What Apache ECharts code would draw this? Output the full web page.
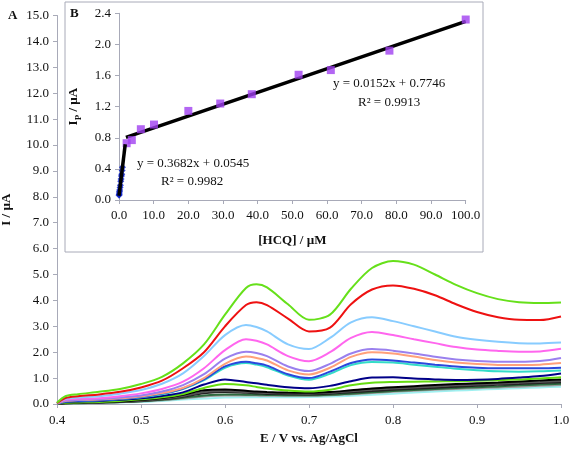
<!DOCTYPE html>
<html>
<head>
<meta charset="utf-8">
<script src="https://cdn.jsdelivr.net/npm/echarts@6/dist/echarts.min.js"></script>
<style>html,body{margin:0;padding:0;background:#fff}#c{width:569px;height:450px}</style>
</head>
<body>
<div id="c"></div>
<script>
// ---------- Main chart (A) data ----------
const E = [0.40,0.41,0.425,0.45,0.475,0.50,0.525,0.55,0.575,0.60,0.625,0.6375,0.65,0.675,0.70,0.725,0.75,0.775,0.80,0.825,0.85,0.875,0.90,0.925,0.95,0.975,1.00];
const curveGreenTop = [0.05,0.30,0.38,0.47,0.58,0.77,1.05,1.57,2.30,3.45,4.48,4.62,4.50,3.85,3.25,3.45,4.45,5.25,5.52,5.38,5.00,4.60,4.28,4.05,3.93,3.90,3.92];
const curveRed      = [0.03,0.23,0.30,0.37,0.47,0.64,0.90,1.38,2.00,3.00,3.82,3.93,3.82,3.30,2.80,2.95,3.85,4.42,4.58,4.45,4.20,3.85,3.55,3.35,3.25,3.24,3.38];
const curveLightBlue= [0.03,0.20,0.25,0.30,0.40,0.54,0.78,1.18,1.85,2.66,3.05,2.97,2.80,2.30,2.12,2.55,3.15,3.35,3.20,3.00,2.80,2.60,2.48,2.40,2.35,2.34,2.37];
const curvePink     = [0.02,0.17,0.20,0.22,0.30,0.41,0.58,0.86,1.38,2.08,2.50,2.44,2.30,1.85,1.65,2.00,2.55,2.78,2.66,2.50,2.35,2.20,2.10,2.05,2.02,2.03,2.13];
const curvePurple   = [0.02,0.13,0.16,0.19,0.25,0.33,0.48,0.73,1.15,1.75,2.02,1.97,1.85,1.45,1.27,1.55,1.95,2.12,2.06,1.95,1.82,1.72,1.66,1.63,1.63,1.66,1.78];
const curveSalmon   = [0.02,0.12,0.15,0.17,0.22,0.29,0.42,0.62,1.00,1.55,1.83,1.78,1.68,1.30,1.14,1.40,1.82,2.00,1.95,1.83,1.70,1.60,1.54,1.51,1.51,1.52,1.58];
const curveRoyal    = [0.02,0.10,0.12,0.14,0.20,0.27,0.40,0.60,0.95,1.45,1.63,1.57,1.48,1.15,1.00,1.25,1.58,1.72,1.68,1.60,1.52,1.45,1.40,1.38,1.38,1.38,1.40];
const curveTeal     = [0.02,0.10,0.12,0.14,0.19,0.26,0.38,0.58,0.92,1.40,1.58,1.52,1.42,1.10,0.94,1.17,1.50,1.62,1.60,1.52,1.44,1.36,1.30,1.26,1.25,1.26,1.29];
const curveNavy     = [0.02,0.08,0.10,0.12,0.16,0.22,0.31,0.45,0.75,0.95,0.85,0.80,0.74,0.65,0.61,0.70,0.88,1.02,1.03,0.98,0.95,0.93,0.94,0.97,1.02,1.08,1.18];
const curveGreenLow = [0.01,0.05,0.06,0.08,0.12,0.18,0.26,0.39,0.62,0.77,0.72,0.66,0.60,0.52,0.48,0.55,0.72,0.82,0.85,0.86,0.87,0.88,0.90,0.92,0.95,0.98,1.03];
const curveBlack1   = [0.01,0.04,0.05,0.07,0.10,0.15,0.23,0.36,0.53,0.56,0.51,0.48,0.46,0.44,0.43,0.46,0.53,0.60,0.65,0.69,0.73,0.77,0.80,0.83,0.87,0.91,0.95];
const curveGray1    = [0.01,0.03,0.04,0.06,0.09,0.13,0.20,0.31,0.46,0.50,0.46,0.44,0.42,0.41,0.40,0.43,0.49,0.55,0.60,0.64,0.68,0.72,0.75,0.78,0.82,0.85,0.89];
const curveBlack2   = [0.01,0.03,0.04,0.06,0.08,0.12,0.18,0.28,0.41,0.46,0.43,0.41,0.39,0.38,0.37,0.40,0.45,0.50,0.55,0.59,0.63,0.67,0.70,0.74,0.77,0.81,0.84];
const curveDkGreen  = [0.00,0.02,0.03,0.05,0.08,0.11,0.16,0.24,0.33,0.37,0.36,0.355,0.35,0.34,0.34,0.36,0.40,0.45,0.50,0.54,0.58,0.62,0.65,0.68,0.72,0.75,0.78];
const curveGray2    = [0.00,0.02,0.03,0.05,0.07,0.10,0.14,0.21,0.29,0.33,0.33,0.325,0.32,0.32,0.32,0.34,0.38,0.42,0.47,0.51,0.55,0.58,0.61,0.64,0.67,0.70,0.73];
const curveCyan     = [0.00,0.02,0.03,0.04,0.06,0.08,0.12,0.17,0.21,0.25,0.26,0.26,0.26,0.26,0.27,0.29,0.32,0.36,0.40,0.44,0.48,0.52,0.55,0.58,0.61,0.64,0.67];

// ---------- Inset (B) data ----------
const hcqHigh = [2.2,3.7,6.3,10.1,20.0,29.2,38.3,51.8,61.1,78.0,100.0];
const ipHigh  = [0.73,0.77,0.91,0.97,1.145,1.24,1.36,1.61,1.67,1.92,2.32];
const hcqLow  = [0.02,0.05,0.10,0.15,0.20,0.30,0.40,0.50,0.60,0.70,0.80,0.90,1.00];
const ipLow   = [0.06,0.07,0.09,0.11,0.13,0.16,0.19,0.24,0.27,0.31,0.33,0.38,0.42];
const fitLowX  = [0.0, 1.8];
const fitLowY  = [0.0545, 0.717];
const fitHighX = [2.0, 100.0];
const fitHighY = [0.805, 2.295];

const mainXTicks = {min:0.4, max:1.0, interval:0.1};
const mainYTicks = {min:0, max:15, interval:1};
const insetXTicks = {min:0, max:100, interval:10};
const insetYTicks = {min:0, max:2.4, interval:0.4};

const curves = [
  [curveCyan,'#9ff0f0'],[curveGray2,'#9a9a9a'],[curveDkGreen,'#2e6b3e'],[curveBlack2,'#222222'],
  [curveGray1,'#555555'],[curveBlack1,'#000000'],[curveGreenLow,'#66dd11'],[curveNavy,'#000088'],
  [curveTeal,'#33dcc8'],[curveRoyal,'#2a48dd'],[curveSalmon,'#ffa07a'],[curvePurple,'#9a80ee'],
  [curvePink,'#ff66ee'],[curveLightBlue,'#88ccff'],[curveRed,'#ee1111'],[curveGreenTop,'#66e01a']
];

const FF = 'Liberation Serif';
const axisCol = '#a8aab8';
const txt = '#111';

const series = curves.map(([vals,col]) => ({
  type:'line', xAxisIndex:0, yAxisIndex:0, smooth:0.3, showSymbol:false, symbol:'none',
  lineStyle:{color:col, width:2}, data: E.map((e,i)=>[e, vals[i]]), z:2
}));

series.push({
  type:'line', xAxisIndex:1, yAxisIndex:1, showSymbol:false, symbol:'none',
  lineStyle:{color:'#000', width:3.5}, data: fitHighX.map((x,i)=>[x, fitHighY[i]]), z:3
});
series.push({
  type:'scatter', xAxisIndex:1, yAxisIndex:1, symbol:'rect', symbolSize:8,
  itemStyle:{color:'#a040f0'}, data: hcqHigh.map((x,i)=>[x, ipHigh[i]]), z:4
});
series.push({
  type:'scatter', xAxisIndex:1, yAxisIndex:1, symbol:'diamond', symbolSize:7,
  itemStyle:{color:'#0018c8'}, data: hcqLow.map((x,i)=>[x, ipLow[i]]), z:4
});
series.push({
  type:'line', xAxisIndex:1, yAxisIndex:1, showSymbol:false, symbol:'none',
  lineStyle:{color:'#000', width:3.5}, data: fitLowX.map((x,i)=>[x, fitLowY[i]]), z:5
});

const labelStyle = {color:txt, fontFamily:FF, fontSize:13};

const option = {
  backgroundColor:'#fff',
  animation:false,
  grid:[
    {left:57, right:8, top:15.5, bottom:46, containLabel:false, outerBoundsMode:'none'},
    {left:119, right:103.3, top:13.3, bottom:250, containLabel:false, outerBoundsMode:'none'}
  ],
  xAxis:[
    {type:'value', gridIndex:0, min:mainXTicks.min, max:mainXTicks.max, interval:mainXTicks.interval,
     axisLine:{show:true, onZero:false, lineStyle:{color:axisCol}}, axisTick:{show:true, length:4, lineStyle:{color:axisCol}},
     splitLine:{show:false},
     axisLabel:Object.assign({margin:10, formatter:v=>v.toFixed(1)}, labelStyle),
     name:'E / V vs. Ag/AgCl', nameLocation:'middle', nameGap:28,
     nameTextStyle:{color:txt, fontFamily:FF, fontSize:13, fontWeight:'bold'}},
    {type:'value', gridIndex:1, min:insetXTicks.min, max:insetXTicks.max, interval:insetXTicks.interval,
     axisLine:{show:true, onZero:false, lineStyle:{color:axisCol}}, axisTick:{show:true, length:4, lineStyle:{color:axisCol}},
     splitLine:{show:false},
     axisLabel:Object.assign({margin:9, formatter:v=>v.toFixed(1)}, labelStyle),
     name:'[HCQ] / µM', nameLocation:'middle', nameGap:34,
     nameTextStyle:{color:txt, fontFamily:FF, fontSize:13, fontWeight:'bold'}}
  ],
  yAxis:[
    {type:'value', gridIndex:0, min:mainYTicks.min, max:mainYTicks.max, interval:mainYTicks.interval,
     axisLine:{show:true, onZero:false, lineStyle:{color:axisCol}}, axisTick:{show:true, length:4, lineStyle:{color:axisCol}},
     splitLine:{show:false},
     axisLabel:Object.assign({margin:8, formatter:v=>v.toFixed(1)}, labelStyle),
     name:'I / µA', nameLocation:'middle', nameGap:44,
     nameTextStyle:{color:txt, fontFamily:FF, fontSize:13, fontWeight:'bold'}},
    {type:'value', gridIndex:1, min:insetYTicks.min, max:insetYTicks.max, interval:insetYTicks.interval,
     axisLine:{show:true, onZero:false, lineStyle:{color:axisCol}}, axisTick:{show:true, length:4, lineStyle:{color:axisCol}},
     splitLine:{show:false},
     axisLabel:Object.assign({margin:8, formatter:v=>v.toFixed(1)}, labelStyle),
     name:'{a|I}{b|P}{a| / µA}', nameLocation:'middle', nameGap:36,
     nameTextStyle:{color:txt, fontFamily:FF, fontSize:13, fontWeight:'bold',
       rich:{a:{fontFamily:FF, fontSize:13, fontWeight:'bold', color:txt, lineHeight:18},
             b:{fontFamily:FF, fontSize:9, fontWeight:'bold', color:txt, lineHeight:10, verticalAlign:'bottom'}}}}
  ],
  graphic:[
    {type:'rect', shape:{x:65, y:2, width:418, height:250}, style:{fill:'transparent', stroke:'#a8aab8', lineWidth:1}, z:-10},
    {type:'text', left:8, top:9, style:{text:'A', font:'bold 13px "Liberation Serif"', fill:txt}},
    {type:'text', left:70, top:7, style:{text:'B', font:'bold 13px "Liberation Serif"', fill:txt}},
    {type:'text', left:137, top:157, style:{text:'y = 0.3682x + 0.0545', font:'13px "Liberation Serif"', fill:txt}},
    {type:'text', left:161, top:175, style:{text:'R² = 0.9982', font:'13px "Liberation Serif"', fill:txt}},
    {type:'text', left:333, top:77, style:{text:'y = 0.0152x + 0.7746', font:'13px "Liberation Serif"', fill:txt}},
    {type:'text', left:358, top:96, style:{text:'R² = 0.9913', font:'13px "Liberation Serif"', fill:txt}}
  ],
  series: series
};

const chart = echarts.init(document.getElementById('c'), null, {renderer:'canvas'});
chart.setOption(option);
</script>
</body>
</html>
